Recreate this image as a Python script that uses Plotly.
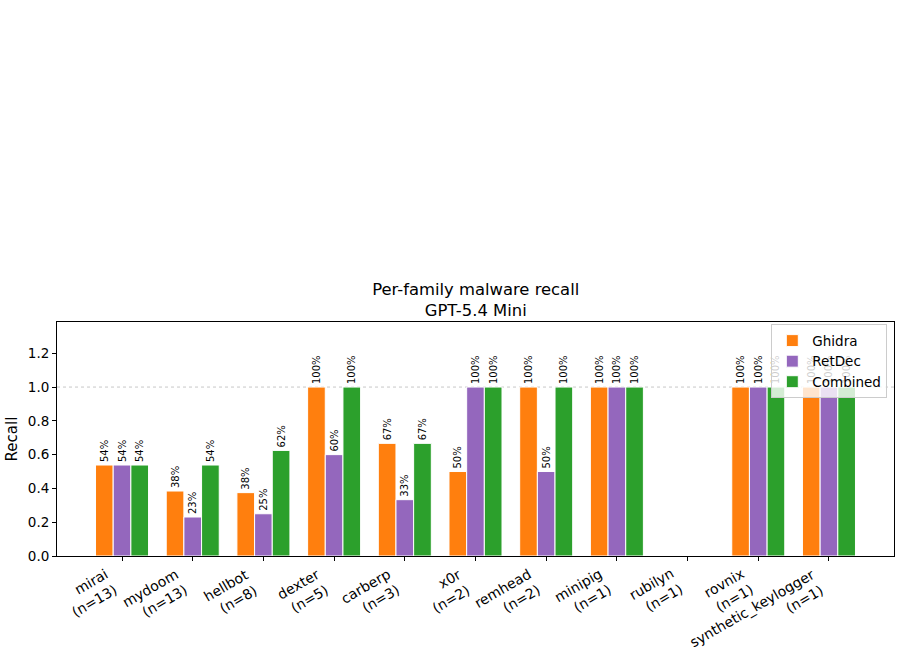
import plotly.graph_objects as go

families = ["mirai", "mydoom", "hellbot", "dexter", "carberp", "x0r", "remhead",
            "minipig", "rubilyn", "rovnix", "synthetic_keylogger"]
counts = [13, 13, 8, 5, 3, 2, 2, 1, 1, 1, 1]
ghidra = [7/13, 5/13, 3/8, 1.0, 2/3, 0.5, 1.0, 1.0, None, 1.0, 1.0]
retdec = [7/13, 3/13, 2/8, 0.6, 1/3, 1.0, 0.5, 1.0, None, 1.0, 1.0]
combined = [7/13, 7/13, 5/8, 1.0, 2/3, 1.0, 1.0, 1.0, None, 1.0, 1.0]
y_ticks = [0.0, 0.2, 0.4, 0.6, 0.8, 1.0, 1.2]

labels = [f"{f}<br>(n={n})" for f, n in zip(families, counts)]
series = [("Ghidra", ghidra, "#ff7f0e"), ("RetDec", retdec, "#9467bd"),
          ("Combined", combined, "#2ca02c")]
xs = list(range(len(families)))

fig = go.Figure()
for name, vals, color in series:
    txt = ["" if v is None else f"{v:.0%}" for v in vals]
    fig.add_trace(go.Bar(
        x=xs, y=vals, name=name,
        marker=dict(color=color, line=dict(color="white", width=1)),
        text=txt, textposition="outside", textangle=-90,
        textfont=dict(size=10, color="black", family="DejaVu Sans"),
        constraintext="none", cliponaxis=False,
    ))

fig.add_hline(y=1.0, line=dict(color="#b8b8b8", width=0.8, dash="dot"), layer="below")

for i, lab in zip(xs, labels):
    fig.add_annotation(
        x=i, xref="x", y=0, yref="paper", yshift=-7,
        text=lab, showarrow=False, textangle=-30,
        xanchor="right", yanchor="top", align="right",
        font=dict(size=14, family="DejaVu Sans", color="black"),
    )

fig.update_layout(
    width=901, height=650,
    margin=dict(l=57, r=7, t=322, b=94, autoexpand=False),
    plot_bgcolor="white", paper_bgcolor="white",
    font=dict(family="DejaVu Sans", size=13, color="black"),
    barmode="group", bargap=0.25, bargroupgap=0,
    title=dict(text="Per-family malware recall<br>GPT-5.4 Mini", x=0.528, xanchor="center",
               y=1 - 295/650, yanchor="top", font=dict(size=16.4)),
    legend=dict(x=0.992, y=0.99, xanchor="right", yanchor="top",
                bgcolor="rgba(255,255,255,0.8)", bordercolor="#cccccc", borderwidth=1,
                font=dict(size=13.5), tracegroupgap=0),
    showlegend=True,
)
fig.update_xaxes(
    tickmode="array", tickvals=xs, showticklabels=False,
    range=[-0.92, 10.92], automargin=False,
    showline=True, linecolor="black", linewidth=1, mirror=True,
    ticks="outside", ticklen=4, tickcolor="black", showgrid=False, zeroline=False,
)
fig.update_yaxes(
    range=[0, 1.385], tickvals=y_ticks, tickformat=".1f", automargin=False,
    showline=True, linecolor="black", linewidth=1, mirror=True,
    ticks="outside", ticklen=4, tickcolor="black", showgrid=False, zeroline=False,
    title=dict(text="Recall", standoff=6, font=dict(size=15)),
    tickfont=dict(size=13.5),
)

fig.write_html("out.html")
